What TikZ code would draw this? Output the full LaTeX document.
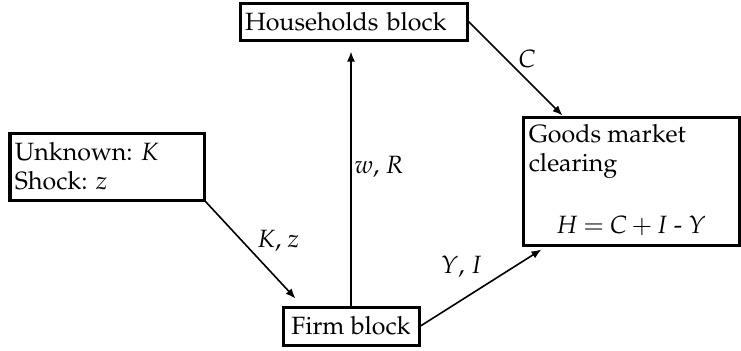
\documentclass[tikz,border=0pt]{standalone}
\usepackage[T1]{fontenc}
\usepackage{mathpazo}
\usepackage{tikz}
\usetikzlibrary{positioning,arrows.meta}

\begin{document}
\begin{tikzpicture}[>={Latex[length=5pt,width=4pt]},
			x=0.5pt,y=-0.5pt,
			box/.style={
				draw,
				line width=1.5pt,
				inner sep=2.5pt,
				font=\fontsize{12.5}{14.5}\selectfont\frenchspacing
			},
			lbl/.style={
				inner sep=1pt,
				font=\fontsize{12.5}{14.5}\selectfont
			},
			flow/.style={->,line width=0.8pt}]
			
			\useasboundingbox (0,0) rectangle (741,350);
			
			\node (hh)[box,text width=108.5pt,align=left,minimum height=18.5pt] at (353.5,21.5){Households block};
			
			\node (unk)[box,text width=92pt,align=left,minimum height=33.5pt] at (107,166.5){Unknown: $K$\\Shock: $z$};
			
			\node (goods)[box,minimum width=108pt,minimum height=64pt] at (631,181){};
			
			\node (goodslbl)[lbl,anchor=north west,align=left,inner sep=0pt] at ([xshift=3.5pt,yshift=-4.5pt]goods.north west){Goods market\\clearing};
			
			\node (eq)[lbl,anchor=base,inner sep=0pt] at ([yshift=6.5pt]goods.south){\thickmuskip=4mu\medmuskip=3mu$H = C + I$ - $Y$};
			
			\node (firm)[box,minimum width=68pt,minimum height=19pt] at (351,326){Firm block};
			
			\draw[flow](firm.north)--node[lbl,pos=0.545,xshift=14pt](wlbl){$w$, $R$}([yshift=-5pt]firm.north |- hh.south);
			
			\draw[flow](hh.east)--node[lbl,pos=0.4,xshift=10.5pt](clbl){$C$}([xshift=20.5pt]goods.north west);
			
			\draw[flow](unk.south east)--node[lbl,pos=0.41,xshift=18pt](klbl){$K$, $z$}([xshift=7pt,yshift=3.5pt]firm.north west);
			
			\draw[flow](firm.east)--node[lbl,pos=0.34,yshift=16.5pt](ylbl){$Y$, $I$}([xshift=10pt,yshift=-1.5pt]goods.south west);
			
		\end{tikzpicture}
\end{document}
